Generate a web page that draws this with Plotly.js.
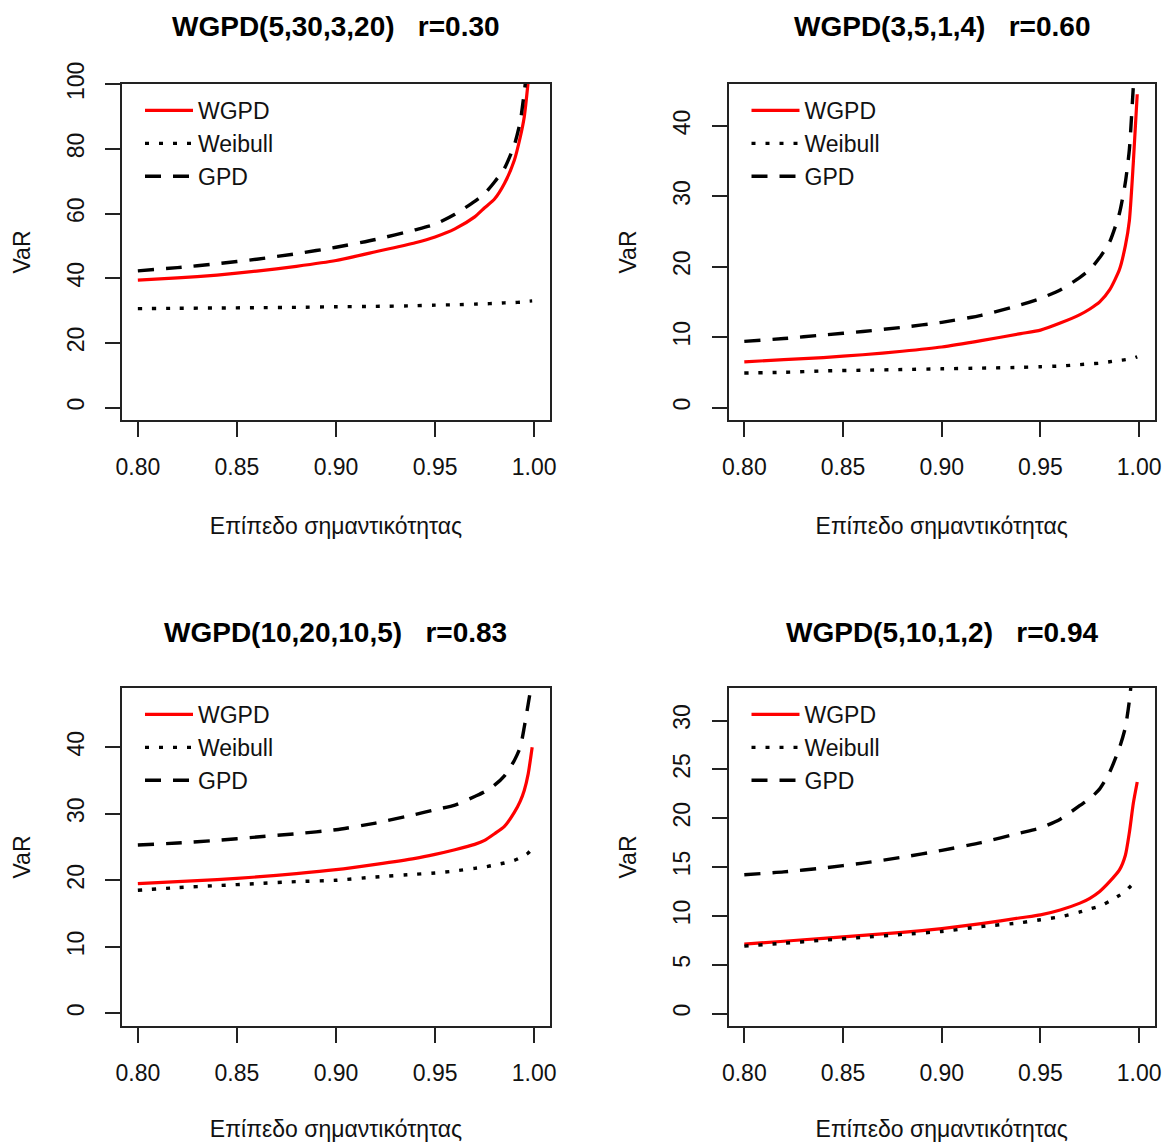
<!DOCTYPE html>
<html>
<head>
<meta charset="utf-8">
<script src="https://cdn.plot.ly/plotly-3.0.1.min.js"></script>
<style>html,body{margin:0;padding:0;background:#fff;}</style>
</head>
<body>
<div id="chart" style="width:1164px;height:1142px;"></div>
<script>
// Significance levels (x)
const levels = [0.80, 0.82, 0.84, 0.86, 0.88, 0.90, 0.92, 0.94, 0.95, 0.96, 0.97, 0.975, 0.98, 0.985, 0.99, 0.993, 0.995, 0.997, 0.999];

// Text
const panelTitles = ["WGPD(5,30,3,20)   r=0.30", "WGPD(3,5,1,4)   r=0.60", "WGPD(10,20,10,5)   r=0.83", "WGPD(5,10,1,2)   r=0.94"];
const seriesNames = ["WGPD", "Weibull", "GPD"];
const xLabel = "Επίπεδο σημαντικότητας";
const yLabel = "VaR";
const xTicks = [0.80, 0.85, 0.90, 0.95, 1.00];
const xTickText = ["0.80", "0.85", "0.90", "0.95", "1.00"];

// Panel 1: WGPD(5,30,3,20)
const wgpd1 = [39.4, 40.1, 41.0, 42.2, 43.7, 45.5, 48.2, 51.0, 52.8, 55.3, 59.0, 61.8, 64.5, 69.3, 76.5, 83.7, 89.9, 101.0, 115.0];
const weib1 = [30.6, 30.7, 30.8, 30.9, 31.0, 31.2, 31.3, 31.5, 31.7, 31.8, 32.0, 32.1, 32.2, 32.4, 32.5, 32.6, 32.7, 32.9, 33.0];
const gpd1  = [42.3, 43.3, 44.5, 45.9, 47.6, 49.6, 52.0, 55.0, 56.7, 59.8, 63.8, 66.2, 69.8, 74.0, 81.2, 88.5, 97.5, 108.0, 120.0];
const yTicks1 = [0, 20, 40, 60, 80, 100];
const yRange1 = [-3.85, 100.1];

// Panel 2: WGPD(3,5,1,4)
const wgpd2 = [6.5, 6.8, 7.1, 7.5, 8.0, 8.6, 9.5, 10.5, 11.0, 12.0, 13.2, 14.0, 15.0, 16.7, 19.6, 23.0, 26.5, 34.7, 44.5];
const weib2 = [4.9, 5.0, 5.2, 5.3, 5.4, 5.5, 5.6, 5.7, 5.8, 5.9, 6.1, 6.2, 6.3, 6.5, 6.7, 6.8, 6.9, 7.0, 7.2];
const gpd2  = [9.4, 9.8, 10.3, 10.8, 11.4, 12.1, 13.1, 14.6, 15.5, 16.7, 18.5, 19.6, 21.3, 23.5, 27.6, 32.0, 36.6, 45.5, 55.0];
const yTicks2 = [0, 10, 20, 30, 40];
const yRange2 = [-1.77, 45.96];

// Panel 3: WGPD(10,20,10,5)
const wgpd3 = [19.5, 19.8, 20.1, 20.5, 21.0, 21.6, 22.4, 23.3, 23.9, 24.6, 25.4, 26.0, 27.0, 28.1, 30.2, 31.9, 33.5, 36.0, 40.0];
const weib3 = [18.5, 18.9, 19.2, 19.5, 19.8, 20.0, 20.5, 20.9, 21.1, 21.4, 21.8, 22.0, 22.3, 22.6, 23.0, 23.4, 23.7, 24.1, 24.7];
const gpd3  = [25.3, 25.6, 26.0, 26.5, 27.0, 27.6, 28.6, 29.9, 30.6, 31.3, 32.6, 33.3, 34.3, 35.7, 38.0, 40.0, 43.0, 46.5, 50.0];
const yTicks3 = [0, 10, 20, 30, 40];
const yRange3 = [-1.9, 48.9];

// Panel 4: WGPD(5,10,1,2)
const wgpd4 = [7.1, 7.4, 7.7, 8.0, 8.3, 8.7, 9.2, 9.8, 10.1, 10.6, 11.3, 11.8, 12.5, 13.5, 14.7, 16.2, 18.5, 21.5, 23.7];
const weib4 = [6.9, 7.2, 7.5, 7.8, 8.1, 8.4, 8.9, 9.3, 9.6, 9.9, 10.4, 10.7, 11.0, 11.5, 12.1, 12.5, 12.9, 13.3, 13.6];
const gpd4  = [14.2, 14.5, 14.9, 15.4, 16.0, 16.7, 17.5, 18.5, 19.0, 19.9, 21.3, 22.0, 23.0, 24.7, 27.2, 29.3, 32.0, 36.0, 40.0];
const yTicks4 = [0, 5, 10, 15, 20, 25, 30];
const yRange4 = [-1.28, 33.33];

const FONT = "Liberation Sans, Arial, sans-serif";
const W = 1164, H = 1142;

const panels = [
  {w: wgpd1, b: weib1, g: gpd1, yt: yTicks1, yr: yRange1, box: [122, 550, 84, 420]},
  {w: wgpd2, b: weib2, g: gpd2, yt: yTicks2, yr: yRange2, box: [728.5, 1155, 84, 420]},
  {w: wgpd3, b: weib3, g: gpd3, yt: yTicks3, yr: yRange3, box: [122, 550, 688, 1026]},
  {w: wgpd4, b: weib4, g: gpd4, yt: yTicks4, yr: yRange4, box: [728.5, 1155, 688, 1026]}
];

const styles = [
  {color: "#ff0000", width: 3.2, dash: "solid"},
  {color: "#000000", width: 3.4, dash: "4px,10px"},
  {color: "#000000", width: 3.4, dash: "16px,12px"}
];

const traces = [];
const layout = {
  width: W, height: H,
  margin: {l: 0, r: 0, t: 0, b: 0},
  paper_bgcolor: "#fff", plot_bgcolor: "#fff",
  font: {family: FONT, size: 23, color: "#111"},
  annotations: [],
  showlegend: true
};

panels.forEach((p, i) => {
  const n = i + 1;
  const xa = n === 1 ? "x" : "x" + n;
  const ya = n === 1 ? "y" : "y" + n;
  const lg = n === 1 ? "legend" : "legend" + n;
  const series = [p.w, p.b, p.g];
  series.forEach((vals, k) => {
    traces.push({
      type: "scatter", mode: "lines",
      x: levels, y: vals,
      name: seriesNames[k],
      xaxis: xa, yaxis: ya, legend: lg,
      line: {color: styles[k].color, width: styles[k].width, dash: styles[k].dash, shape: "spline", smoothing: 0.6},
      hoverinfo: "x+y+name"
    });
  });
  const [x0, x1, y0, y1] = p.box;
  const xd = [x0 / W, x1 / W];
  const yd = [1 - y1 / H, 1 - y0 / H];
  layout[n === 1 ? "xaxis" : "xaxis" + n] = {
    domain: xd, anchor: ya, range: [0.792, 1.008],
    tickvals: xTicks, ticktext: xTickText,
    ticks: "outside", ticklen: 15, tickwidth: 2, tickcolor: "#222",
    showline: true, mirror: true, linecolor: "#222", linewidth: 2,
    showgrid: false, zeroline: false,
    tickfont: {family: FONT, size: 23, color: "#111"},
    ticklabelstandoff: 10,
    title: {text: xLabel, font: {family: FONT, size: 23, color: "#111"}, standoff: 39}
  };
  layout[n === 1 ? "yaxis" : "yaxis" + n] = {
    domain: yd, anchor: xa, range: p.yr,
    tickvals: p.yt,
    ticks: "outside", ticklen: 15, tickwidth: 2, tickcolor: "#222",
    showline: true, mirror: true, linecolor: "#222", linewidth: 2,
    showgrid: false, zeroline: false,
    tickangle: -90,
    tickfont: {family: FONT, size: 23, color: "#111"},
    ticklabelstandoff: 12,
    title: {text: yLabel, font: {family: FONT, size: 23, color: "#111"}, standoff: 26}
  };
  layout[lg] = {
    x: (x0 + 18) / W, y: 1 - (y0 + 5) / H,
    xanchor: "left", yanchor: "top",
    bgcolor: "rgba(0,0,0,0)", borderwidth: 0,
    font: {family: FONT, size: 23, color: "#111"},
    tracegroupgap: 0, itemwidth: 48
  };
  layout.annotations.push({
    xref: "paper", yref: "paper",
    x: (x0 + x1) / 2 / W, y: 1 - (n <= 2 ? 27 : 632) / H,
    xanchor: "center", yanchor: "middle",
    text: "<b>" + panelTitles[i] + "</b>",
    showarrow: false,
    font: {family: FONT, size: 28, color: "#000"}
  });
});

Plotly.newPlot("chart", traces, layout, {displayModeBar: false, staticPlot: true});
</script>
</body>
</html>
